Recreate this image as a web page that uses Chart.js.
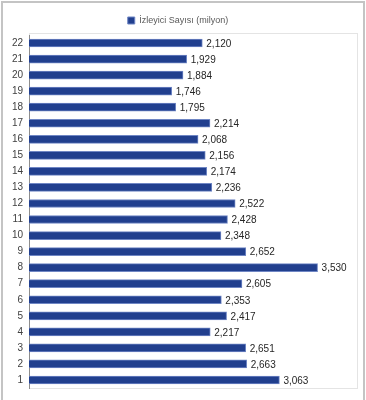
<!DOCTYPE html>
<html><head><meta charset="utf-8">
<script src="https://cdn.jsdelivr.net/npm/chart.js@4/dist/chart.umd.min.js"></script>
<style>
html,body{margin:0;padding:0;background:#fff;}
#wrap{position:relative;width:366px;height:400px;}
#frame{position:absolute;left:1px;top:1px;width:364px;height:402px;border:2px solid #c4c4c4;box-sizing:border-box;pointer-events:none;}
canvas{position:absolute;left:0;top:0;}
</style></head>
<body><div id="wrap"><canvas id="c" width="366" height="400"></canvas><div id="frame"></div></div>
<script>
const categories = ['1','2','3','4','5','6','7','8','9','10','11','12','13','14','15','16','17','18','19','20','21','22'];
const viewers = [3063,2663,2651,2217,2417,2353,2605,3530,2652,2348,2428,2522,2236,2174,2156,2068,2214,1795,1746,1884,1929,2120];
const seriesName = 'İzleyici Sayısı (milyon)';
const FONT = "'Liberation Sans', Arial, sans-serif";

const labelPlugin = {
  id:'valLabels',
  afterDatasetsDraw(chart){
    const ctx = chart.ctx;
    const meta = chart.getDatasetMeta(0);
    ctx.save();
    ctx.font = '10px ' + FONT;
    ctx.fillStyle = '#262626';
    ctx.textAlign = 'left';
    ctx.textBaseline = 'middle';
    meta.data.forEach((bar,i)=>{
      ctx.fillText(viewers[i].toLocaleString('en-US'), bar.x + 4, bar.y + 1);
    });
    ctx.restore();
  }
};
const framePlugin = {
  id:'plotFrame',
  beforeDraw(chart){
    const a = chart.chartArea, ctx = chart.ctx;
    ctx.save();
    ctx.strokeStyle = '#e4e4e4';
    ctx.lineWidth = 1;
    ctx.strokeRect(a.left+0.5, a.top-1.5, a.right - a.left + 1, a.bottom - a.top + 2);
    ctx.restore();
  }
};

new Chart(document.getElementById('c'), {
  type:'bar',
  data:{ labels:categories, datasets:[{
    label:seriesName, data:viewers,
    backgroundColor:'#213f8e', borderColor:'#6f86c4', borderWidth:1, borderSkipped:'start',
    barThickness:8
  }]},
  options:{
    indexAxis:'y', responsive:false, animation:false,
    layout:{padding:{left:0,right:10,top:5,bottom:8}},
    plugins:{
      legend:{display:true, position:'top',
        labels:{boxWidth:7, boxHeight:7, font:{family:FONT,size:9}, color:'#595959', padding:11}},
      tooltip:{enabled:false}
    },
    scales:{
      x:{display:false, min:0, max:4000},
      y:{reverse:true, grid:{display:false, drawTicks:false},
         border:{display:true, color:'#8c8c8c'},
         ticks:{font:{family:FONT,size:10}, color:'#404040', padding:6},
         afterFit(s){ s.width = 29; }
      }
    }
  },
  plugins:[labelPlugin, framePlugin]
});
</script></body></html>
